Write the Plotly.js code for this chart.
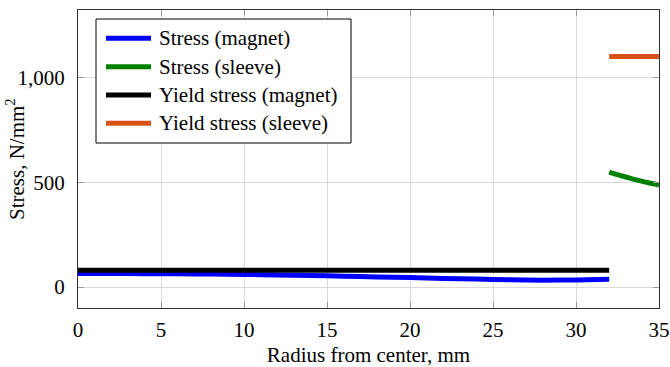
<!DOCTYPE html>
<html>
<head>
<meta charset="utf-8">
<script src="https://cdn.plot.ly/plotly-3.0.1.min.js"></script>
<style>html,body{margin:0;padding:0;background:#fff}#chart{width:670px;height:367px}</style>
</head>
<body>
<div id="chart"></div>
<script>
// ---- data ----
const seriesNames = ["Stress (magnet)", "Stress (sleeve)", "Yield stress (magnet)", "Yield stress (sleeve)"];
const seriesColors = ["#0000ff", "#008000", "#000000", "#d95319"];

const magnetRadius = [0, 2, 4, 6, 8, 10, 12, 14, 16, 18, 20, 22, 24, 26, 28, 30, 32];
const magnetStress = [65, 65, 64, 63, 62, 60, 58, 55, 52, 48, 45, 41, 38, 35, 33, 34, 37];

const sleeveRadius = [32, 32.5, 33, 33.5, 34, 34.5, 35];
const sleeveStress = [548, 536, 525, 514, 504, 495, 487];

const yieldMagnetRadius = [0, 32];
const yieldMagnetStress = [80, 80];

const yieldSleeveRadius = [32, 35];
const yieldSleeveStress = [1100, 1100];

const xTicks = [0, 5, 10, 15, 20, 25, 30, 35];
const yTicks = [0, 500, 1000];

const xTitle = "Radius from center, mm";
const yTitle = "Stress, N/mm<sup>2</sup>";

// ---- plot ----
const FONT = "Liberation Serif";
const FS = 21;
const xs = [magnetRadius, sleeveRadius, yieldMagnetRadius, yieldSleeveRadius];
const ys = [magnetStress, sleeveStress, yieldMagnetStress, yieldSleeveStress];

const traces = xs.map((x, i) => ({
  x: x, y: ys[i], type: "scatter", mode: "lines",
  name: seriesNames[i],
  line: {color: seriesColors[i], width: 5, shape: "spline", smoothing: 0.6},
  showlegend: false, hoverinfo: "skip"
}));

// custom legend (pgfplots-like) in paper coords
const plotL = 78, plotR = 659, plotT = 10, plotB = 308;
const pw = plotR - plotL, ph = plotB - plotT;
const px = v => (v - plotL) / pw;
const py = v => (plotB - v) / ph;

const shapes = [{
  type: "rect", xref: "paper", yref: "paper",
  x0: px(96), x1: px(351), y0: py(143), y1: py(19),
  line: {color: "#000", width: 1}, fillcolor: "#fff", layer: "above"
}];
const annotations = [];
const rowY = [38.3, 66.7, 95, 123.3];
seriesNames.forEach((n, i) => {
  shapes.push({
    type: "line", xref: "paper", yref: "paper",
    x0: px(106), x1: px(151), y0: py(rowY[i]), y1: py(rowY[i]),
    line: {color: seriesColors[i], width: 5}, layer: "above"
  });
  annotations.push({
    xref: "paper", yref: "paper", x: px(157), y: py(rowY[i]),
    xanchor: "left", yanchor: "middle", showarrow: false,
    text: n, font: {family: FONT, size: FS, color: "#000"}
  });
});

// y-axis title as rotated annotation (positioned like the pgfplots label)
annotations.push({
  xref: "paper", yref: "paper", x: px(15), y: 0.5,
  xanchor: "center", yanchor: "middle", textangle: -90, showarrow: false,
  text: yTitle, font: {family: FONT, size: FS, color: "#000"}
});

const axisCommon = {
  showline: true, linecolor: "#333", linewidth: 1, mirror: "ticks",
  ticks: "inside", ticklen: 6, tickcolor: "#999", tickwidth: 1,
  showgrid: true, gridcolor: "#d9d9d9", gridwidth: 1,
  zeroline: false,
  tickfont: {family: FONT, size: FS, color: "#000"}
};

const layout = {
  width: 670, height: 367,
  margin: {l: plotL, r: 670 - plotR, t: plotT, b: 367 - plotB},
  paper_bgcolor: "#fff", plot_bgcolor: "#fff",
  xaxis: Object.assign({}, axisCommon, {
    range: [0, 35], tickvals: xTicks, ticklabelstandoff: 3,
    title: {text: xTitle, font: {family: FONT, size: FS, color: "#000"}, standoff: 14}
  }),
  yaxis: Object.assign({}, axisCommon, {
    range: [-100, 1322], tickvals: yTicks, tickformat: ",", ticklabelstandoff: 8
  }),
  shapes: shapes,
  annotations: annotations,
  showlegend: false
};

Plotly.newPlot("chart", traces, layout, {displayModeBar: false});
</script>
</body>
</html>
